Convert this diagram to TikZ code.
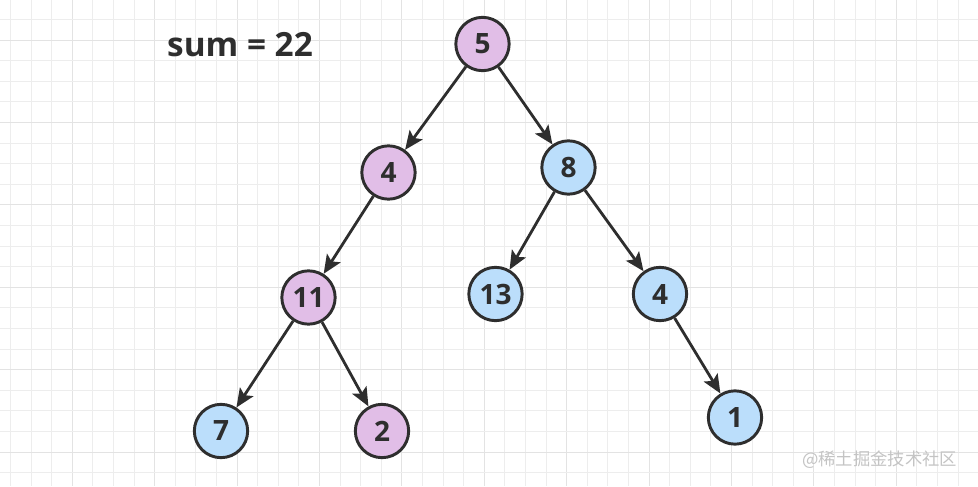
\documentclass[tikz,border=0pt]{standalone}
\usepackage{fontspec}
\setmainfont{Open Sans}
\newfontfamily\cjkfont{Noto Sans CJK SC}
\usetikzlibrary{arrows.meta}
\definecolor{ink}{HTML}{2E2E2E}
\definecolor{pinkfill}{HTML}{E1BEE7}
\definecolor{bluefill}{HTML}{BBDEFB}
\definecolor{gridminor}{HTML}{EDEDED}
\definecolor{gridmajor}{HTML}{E3E3E3}
\definecolor{wmark}{HTML}{C4C4C4}
\tikzset{
  treenode/.style={circle, draw=ink, line width=2.2pt, minimum size=40pt, inner sep=0pt,
    font=\fontsize{21}{25}\selectfont\bfseries, text=ink},
  pinknode/.style={treenode, fill=pinkfill},
  bluenode/.style={treenode, fill=bluefill},
  edge/.style={draw=ink, line width=2.1pt, -{Stealth[length=14pt,width=12pt,inset=3pt]}},
  gridline/.style={draw=gridminor, line width=0.75pt},
  gridbold/.style={draw=gridmajor, line width=0.75pt},
}
\begin{document}
\begin{tikzpicture}[x=0.75pt,y=-0.75pt]
\useasboundingbox (0,0) rectangle (978,486);
\fill[white] (0,0) rectangle (978,486);
% grid (pixel aligned)
\foreach \i in {0,...,47} {
  \pgfmathsetmacro{\xx}{round(10+20.6*\i)+0.5}
  \pgfmathtruncatemacro{\m}{mod(\i,4)}
  \ifnum\m=3
    \draw[gridbold] (\xx,0) -- (\xx,486);
  \else
    \draw[gridline] (\xx,0) -- (\xx,486);
  \fi
}
\foreach \j in {0,...,23} {
  \pgfmathsetmacro{\yy}{round(19+20.6*\j)+0.5}
  \pgfmathtruncatemacro{\m}{mod(\j,4)}
  \ifnum\m=1
    \draw[gridbold] (0,\yy) -- (978,\yy);
  \else
    \draw[gridline] (0,\yy) -- (978,\yy);
  \fi
}
% label
\node[font=\fontsize{25}{29}\selectfont\bfseries, text=ink] (sum) at (240,45) {sum = 22};
% nodes
\node[pinknode] (n5) at (482.5,44) {5};
\node[pinknode] (n4) at (388.5,172.5) {4};
\node[bluenode] (n8) at (568.5,167.5) {8};
\node[pinknode] (n11) at (308.5,297.5) {11};
\node[bluenode] (n13) at (495.5,294) {13};
\node[bluenode] (n4b) at (660,294) {4};
\node[bluenode] (n7) at (221,431) {7};
\node[pinknode] (n2) at (382,431) {2};
\node[bluenode] (n1) at (735,417.5) {1};
% edges
\draw[edge] (n5) -- (n4);
\draw[edge] (n5) -- (n8);
\draw[edge] (n4) -- (n11);
\draw[edge] (n8) -- (n13);
\draw[edge] (n8) -- (n4b);
\draw[edge] (n11) -- (n7);
\draw[edge] (n11) -- (n2);
\draw[edge] (n4b) -- (n1);
% watermark
\node[font=\cjkfont\fontsize{13}{15}\selectfont, text=wmark, anchor=east] (wm) at (962,460) {@稀土掘金技术社区};
\end{tikzpicture}
\end{document}
